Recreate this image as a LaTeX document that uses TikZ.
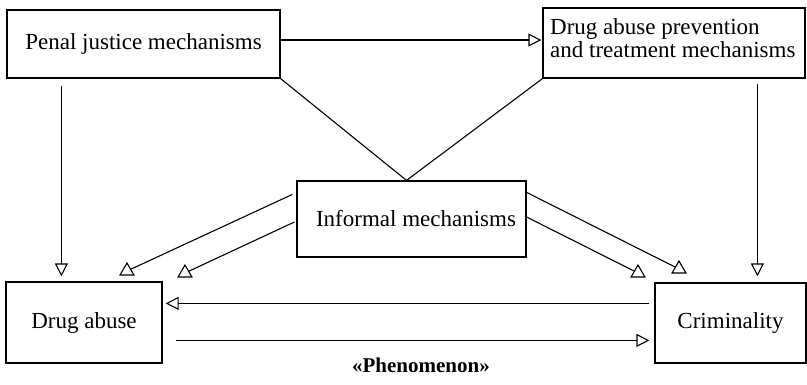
\documentclass[tikz,border=0pt]{standalone}
\usepackage{fontspec}
\setmainfont{Liberation Serif}
\usetikzlibrary{arrows.meta,calc,shapes.geometric}

\tikzset{
  box/.style={draw, line width=1.2pt, rectangle, inner sep=0pt,
              font=\fontsize{23}{23}\selectfont},
  link/.style={line width=1.1pt},
  arr/.style={link, -{Triangle[open, length=13pt, width=13pt, line width=1.1pt]}},
  uptri/.style={draw, line width=1.1pt, regular polygon, regular polygon sides=3,
                minimum size=16pt, inner sep=0pt, outer sep=0pt},
  caption/.style={font=\bfseries\fontsize{21}{24}\selectfont, inner sep=0pt}
}

\begin{document}
\begin{tikzpicture}[x=1pt, y=-1pt]
  \useasboundingbox (0,0) rectangle (807,384);

  % boxes
  \node[box, minimum width=273pt, minimum height=68pt] (penal) at (143.5,44) {Penal justice mechanisms};
  \node[box, minimum width=262pt, minimum height=70pt] (prev) at (674,43) {};
  \node[font=\fontsize{23}{23}\selectfont, align=left, anchor=west, inner sep=0pt] (prevtxt) at (550,38.5)
       {Drug abuse prevention\\and treatment mechanisms};
  \node[box, minimum width=229pt, minimum height=76pt] (inf) at (411.5,219) {\hspace*{9pt}Informal mechanisms};
  \node[box, minimum width=156pt, minimum height=81pt] (drug) at (84,322.5) {Drug abuse};
  \node[box, minimum width=151pt, minimum height=80pt] (crim) at (730.5,323) {Criminality};
  \node[caption] (phen) at (421,365) {«Phenomenon»};

  % upright open triangles closing the links from the informal mechanisms
  \node[uptri] (t1) at (127,271) {};
  \node[uptri] (t2) at (185,273) {};
  \node[uptri] (t3) at (638,273) {};
  \node[uptri] (t4) at (679,269) {};

  % formal mechanisms
  \draw[arr] ($(penal.east)+(0,-4)$) -- ($(prev.west)+(-1,-3)$);
  \draw[arr] ($(penal.south west)+(55,7)$) -- ($(drug.north west)+(56,-5)$);
  \draw[arr] ($(prev.south west)+(215,5)$) -- ($(crim.north west)+(103,-6)$);

  % both formal mechanisms feed the informal ones
  \coordinate (apex) at ($(inf.north)+(-5,0)$);
  \draw[link] (penal.south east) -- (apex);
  \draw[link] (prev.south west) -- (apex);

  % informal mechanisms acting on the phenomenon
  \draw[link] ($(inf.north west)+(-4,14)$) -- (t1);
  \draw[link] ($(inf.west)+(-2,3)$) -- (t2);
  \draw[link] ($(inf.east)+(0,-2)$) -- (t3);
  \draw[link] ($(inf.north east)+(0,12)$) -- (t4);

  % the phenomenon: drug abuse and criminality
  \draw[arr] ($(crim.north west)+(-5,21)$) -- ($(drug.north east)+(3,22)$);
  \draw[arr] ($(drug.north east)+(13,59)$) -- ($(crim.north west)+(-5,58)$);
\end{tikzpicture}
\end{document}
